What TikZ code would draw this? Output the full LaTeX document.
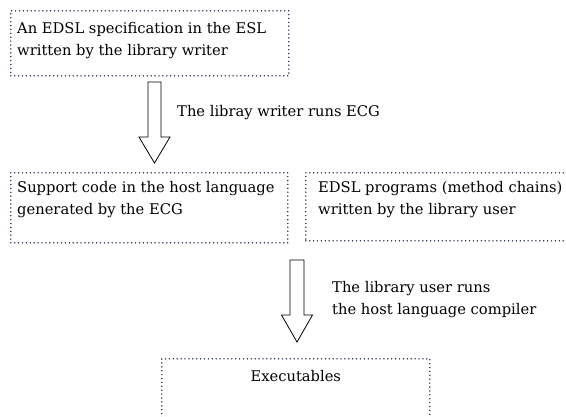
\documentclass[tikz,border=0pt]{standalone}
\usepackage{fontspec}
\setmainfont{DejaVu Serif}
\usetikzlibrary{calc}
\definecolor{dotc}{HTML}{1F2A4E}
\tikzset{
  box/.style={draw=dotc, line width=1.6pt, dash pattern=on 0pt off 3.9pt, line cap=round, anchor=north west, inner sep=0pt},
  txt/.style={anchor=west, align=left, inner sep=0pt, font=\fontsize{14.7}{22}\selectfont},
  bigarrow/.style={draw=black, line width=0.8pt, fill=white, line join=miter}
}
\begin{document}
\begin{tikzpicture}[x=1pt,y=-1pt]
\useasboundingbox (0,0) rectangle (566,416);
% boxes
\node[box, minimum width=278pt, minimum height=65pt] (b1) at (10,10) {};
\node[box, minimum width=277pt, minimum height=70pt] (b2) at (10,172) {};
\node[box, minimum width=280pt, minimum height=68pt] (b3) at (305,172) {};
\node[box, minimum width=268pt, minimum height=80pt] (b4) at (161,358) {};
% texts
\node[txt] (t1) at (17,41) {An EDSL specification in the ESL\\written by the library writer};
\node[txt] (t2) at (17,200) {Support code in the host language\\generated by the ECG};
\node[txt] (t3) at (318,200) {EDSL programs (method chains)\\written by the library user};
\node[txt, anchor=center] (t4) at (b4.north |- 0,376) {Executables};
% arrows
\draw[bigarrow] (148,82) -- (161,82) -- (161,137) -- (170,137) -- (154.5,163) -- (139,137) -- (148,137) -- cycle;
\node[txt] (l1) at (177,113) {The libray writer runs ECG};
\draw[bigarrow] (290,260) -- (304,260) -- (304,315) -- (312.5,315) -- (297,342) -- (281.5,315) -- (290,315) -- cycle;
\node[txt] (l2) at (332,300) {The library user runs\\the host language compiler};
\end{tikzpicture}
\end{document}
